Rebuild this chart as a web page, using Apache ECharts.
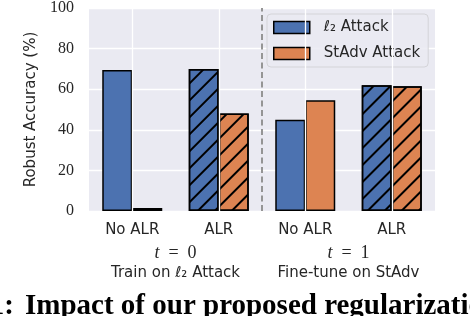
<!DOCTYPE html>
<html><head><meta charset="utf-8">
<script src="https://cdn.jsdelivr.net/npm/echarts@6/dist/echarts.min.js"></script>
<style>html,body{margin:0;padding:0;background:#fff}#c{width:470px;height:316px}</style>
</head><body><div id="c"></div>
<script>
// ---- data ----
const categories = ['No ALR', 'ALR', 'No ALR', 'ALR'];
const hatched = [false, true, false, true];
const groupTimes = ['0', '1'];
const groupCaptions = ['Train on ℓ₂ Attack', 'Fine-tune on StAdv'];
const seriesNames = ['ℓ₂ Attack', 'StAdv Attack'];
const l2Values = [69.5, 70, 45, 62];
const stadvValues = [1.5, 48, 54.5, 61.5];
const yMin = 0, yMax = 100, yStep = 20;
const captionLead = 'Figure 1:';
const captionText = 'Impact of our proposed regularization';

// ---- chart ----
const hatch = { symbol: 'rect', symbolSize: 1, dashArrayX: [1, 0], dashArrayY: [1.4, 10], rotation: -Math.PI / 4, color: '#000' };
function items(vals) {
  return vals.map((v, i) => ({ value: v, itemStyle: hatched[i] ? { decal: hatch } : {} }));
}
const centers = categories.map((_, i) => i + 0.5);
const separator = categories.length / 2;
const sans = 'DejaVu Sans';
const serif = 'Liberation Serif';
const txt = '#262626';

const chart = echarts.init(document.getElementById('c'), null, { renderer: 'canvas' });
chart.setOption({
  animation: false,
  grid: { left: 89, right: 35, top: 6, bottom: 105, show: true, backgroundColor: '#EAEAF2', borderWidth: 0 },
  xAxis: [
    { type: 'category', data: categories, axisLine: { show: false }, axisTick: { show: false }, splitLine: { show: false },
      axisLabel: { fontFamily: sans, fontSize: 15, color: txt, margin: 12 } },
    { type: 'category', data: groupCaptions, position: 'bottom', axisLine: { show: false }, axisTick: { show: false }, splitLine: { show: false },
      axisLabel: { margin: 32, color: txt,
        formatter: (v, i) => `{mi|t}{m|  =  ${groupTimes[i]}}\n{s|${v}}`,
        rich: {
          mi: { fontFamily: serif, fontStyle: 'italic', fontSize: 18, lineHeight: 20, color: txt },
          m: { fontFamily: serif, fontSize: 18, lineHeight: 20, color: txt },
          s: { fontFamily: sans, fontSize: 15, lineHeight: 20, color: txt }
        } } },
    { type: 'value', min: 0, max: categories.length, show: false }
  ],
  yAxis: { type: 'value', min: yMin, max: yMax, interval: yStep,
    axisLine: { show: false }, axisTick: { show: false },
    splitLine: { lineStyle: { color: '#fff', width: 1.3 } },
    axisLabel: { fontFamily: serif, fontSize: 16, color: txt, margin: 15 },
    name: 'Robust Accuracy (%)', nameLocation: 'middle', nameGap: 48,
    nameTextStyle: { fontFamily: sans, fontSize: 15, color: txt } },
  legend: {
    data: seriesNames, orient: 'vertical', left: 267, top: 14, icon: 'rect',
    itemWidth: 36, itemHeight: 12, itemGap: 11,
    padding: [6, 8, 6, 6], backgroundColor: 'rgba(234,234,242,0.85)', borderColor: '#d4d4d8', borderWidth: 1, borderRadius: 4,
    textStyle: { fontFamily: sans, fontSize: 15, color: txt, padding: [0, 0, 0, 9] },
    itemStyle: { borderColor: '#000', borderWidth: 1.5 }
  },
  series: [
    { type: 'line', xAxisIndex: 2, data: [], silent: true, z: 1,
      markLine: { symbol: 'none', silent: true, label: { show: false }, animation: false,
        data: centers.map(x => ({ xAxis: x, lineStyle: { color: '#fff', width: 1.3, type: 'solid' } }))
          .concat([{ xAxis: separator, lineStyle: { color: '#959595', width: 2, type: [6, 3.5] } }]) } },
    { type: 'bar', name: seriesNames[0], data: items(l2Values), barWidth: 30, barGap: '0%', z: 3,
      itemStyle: { color: '#4C72B0', borderColor: '#000', borderWidth: 1.5 } },
    { type: 'bar', name: seriesNames[1], data: items(stadvValues), barWidth: 30, barGap: '0%', z: 3,
      itemStyle: { color: '#DD8452', borderColor: '#000', borderWidth: 1.5 } }
  ],
  graphic: [
    { type: 'text', right: 456, top: 292, style: { text: captionLead, font: 'bold 29px "Liberation Serif"', fill: '#000' } },
    { type: 'text', left: 25, top: 292, style: { text: captionText, font: 'bold 29px "Liberation Serif"', fill: '#000' } }
  ]
});
</script></body></html>
